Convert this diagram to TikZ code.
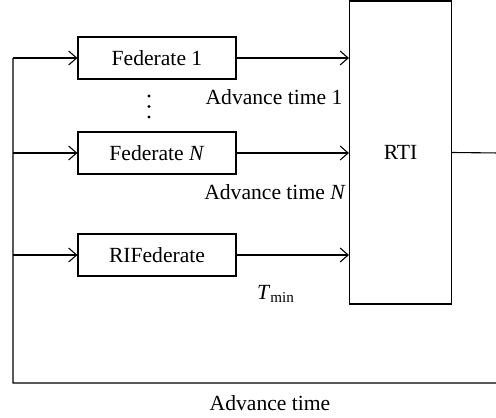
\documentclass[tikz,border=0pt]{standalone}
\usepackage{fontspec}
\setmainfont{Liberation Serif}
\usetikzlibrary{arrows.meta}
\tikzset{
    fed/.style={draw, minimum width=79pt, minimum height=21pt, inner sep=0pt},
    lbl/.style={inner sep=0pt},
    flow/.style={-{Straight Barb[length=4pt,width=7pt]}}
}
\begin{document}
\begin{tikzpicture}[x=0.5pt, y=-0.5pt, line width=0.55pt, font=\fontsize{10.8}{13}\selectfont]
    \useasboundingbox ( 0, 0 ) rectangle ( 496, 417 );

    % федераты
    \node [fed] (fed1) at ( 157, 58 ) {Federate 1};
    \node [fed] (fedN) at ( 157, 153 ) {Federate \textit{N}};
    \node [fed] (rif) at ( 157, 255 ) {RIFederate};
    \fill ( 149, 96 ) circle ( 1.6 ) ( 149, 106.5 ) circle ( 1.6 ) ( 149, 117 ) circle ( 1.6 );

    % RTI
    \node [draw, minimum width=51pt, minimum height=151.5pt, inner sep=0pt] (rti) at ( 400.5, 152.5 ) {RTI};

    % сообщения к RTI
    \draw [flow] (fed1.east) -- (fed1.east -| rti.west);
    \draw [flow] (fedN.east) -- (fedN.east -| rti.west);
    \draw [flow] (rif.east) -- (rif.east -| rti.west);
    \node [lbl] (at1) at ( 274, 97 ) {Advance time 1};
    \node [lbl] (atN) at ( 275, 192 ) {Advance time \textit{N}};
    \node [lbl] (tmin) at ( 276, 294 ) {\textit{T}\textsubscript{min}};

    % обратная связь
    \coordinate (c1) at ( 500, 153 );
    \coordinate (c2) at ( 500, 383 );
    \coordinate (c3) at ( 13, 383 );
    \coordinate (c4) at ( 13, 58 );
    \draw (rti.east) -- (c1) -- (c2) -- (c3) -- (c4);
    \draw [flow] (c4) -- (fed1.west);
    \draw [flow] (c4 |- fedN.west) -- (fedN.west);
    \draw [flow] (c4 |- rif.west) -- (rif.west);
    \node [lbl] (at) at ( 270, 403 ) {Advance time};
\end{tikzpicture}
\end{document}
